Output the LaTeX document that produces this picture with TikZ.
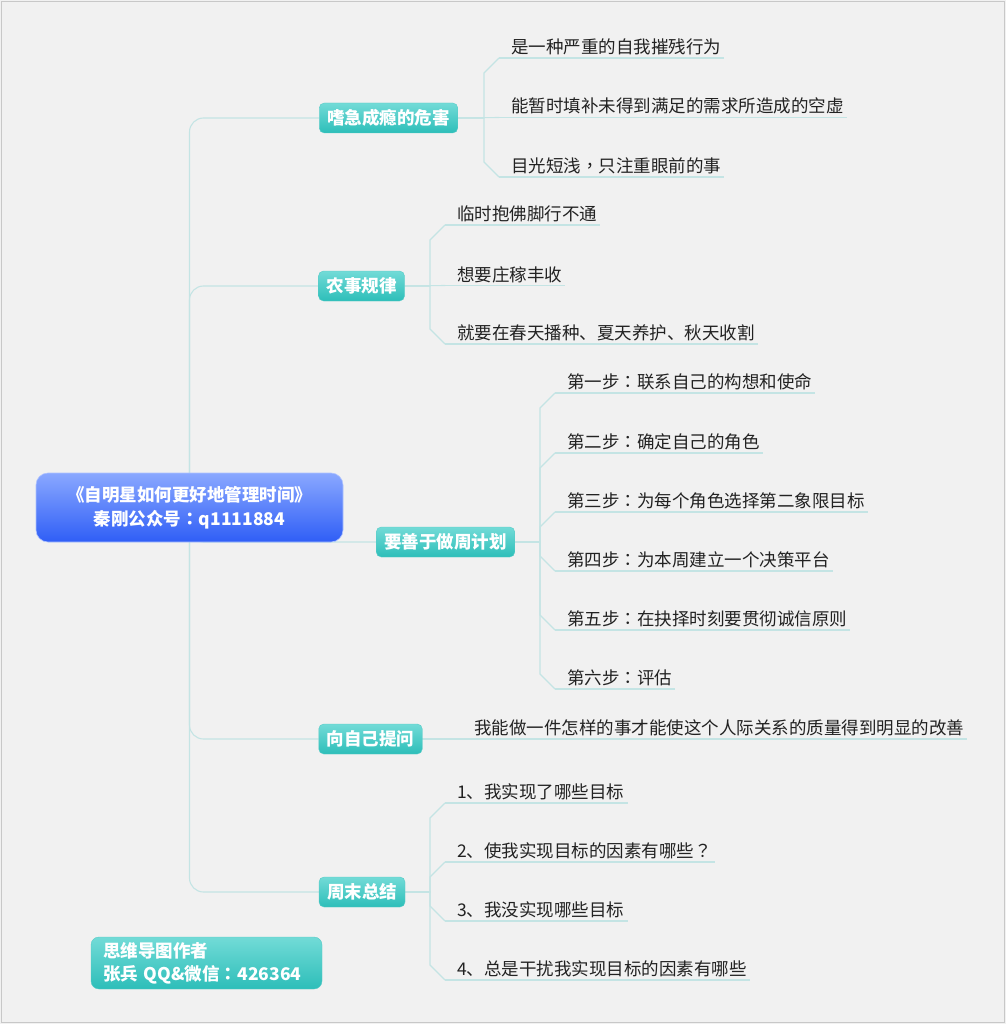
\documentclass[tikz,border=0pt]{standalone}
\usepackage{fontspec}
\setmainfont{Noto Sans CJK SC}
\newfontfamily\tcpunct{Noto Sans CJK TC}
\newcommand{\pcolon}{{\tcpunct ：}}
\newcommand{\pcomma}{{\tcpunct ，}}
\newcommand{\pquest}{{\tcpunct ？}}
\usetikzlibrary{calc}
\pgfdeclarelayer{bglayer}
\pgfdeclarelayer{linelayer}
\pgfsetlayers{bglayer,linelayer,main}
\definecolor{paper}{HTML}{F1F1F1}
\definecolor{frame}{HTML}{C8C8C8}
\definecolor{conncol}{HTML}{C4E4E4}
\definecolor{tealtop}{HTML}{72DBD7}
\definecolor{tealbot}{HTML}{2DBEB9}
\definecolor{bluetop}{HTML}{8AA8FF}
\definecolor{bluebot}{HTML}{2F5EF6}
\definecolor{leaftext}{HTML}{222222}
\tikzset{
  conn/.style={draw=conncol, line width=1.1pt},
  topic/.style={rounded corners=5pt, top color=tealtop, bottom color=tealbot,
    draw=tealbot!80!white, line width=0.4pt, text=white, font=\fontsize{17.5}{21}\selectfont\bfseries,
    inner xsep=8pt, inner ysep=0pt, minimum height=30pt},
  rootbox/.style={rounded corners=12pt, top color=bluetop, bottom color=bluebot,
    draw=bluetop!70!white, line width=0.6pt, text=white, align=center,
    font=\fontsize{17.5}{24}\selectfont\bfseries, minimum width=307pt, minimum height=69pt, inner sep=0pt},
  authorbox/.style={rounded corners=8pt, top color=tealtop, bottom color=tealbot,
    draw=tealbot!80!white, line width=0.4pt, text=white, align=left,
    font=\fontsize{17.5}{23}\selectfont\bfseries, minimum width=231pt, minimum height=52pt,
    inner xsep=12pt, text width=207pt},
  leaf/.style={inner sep=0pt, text=leaftext, font=\fontsize{17.5}{21}\selectfont, anchor=base west}
}
\newcommand{\ulkid}[1]{\draw[conn] ([shift={(-12,4.5)}]#1.base west) -- ([shift={(3,4.5)}]#1.base east);}
\newcommand{\upkid}[3]{\draw[conn] (#1.east) -- (#2) -- ([shift={(-27,19.5)}]#3.base west) -- ([shift={(-12,4.5)}]#3.base west);}
\newcommand{\downkid}[3]{\draw[conn] (#1.east) -- (#2) -- ([shift={(-27,-10.5)}]#3.base west) -- ([shift={(-12,4.5)}]#3.base west);}
\newcommand{\midkid}[2]{\draw[conn] (#1.east) -- ([shift={(-12,4.5)}]#2.base west);}
\begin{document}
\begin{tikzpicture}[x=1pt,y=-1pt]
\begin{pgfonlayer}{bglayer}
\fill[paper] (0,0) rectangle (1006,1024);
\draw[frame, line width=1pt] (1.5,1.5) rectangle (1004.5,1022.5);
\end{pgfonlayer}
\useasboundingbox (0,0) rectangle (1006,1024);

% root
\node[rootbox] (root) at (189.5,507.5) {《自明星如何更好地管理时间》\\秦刚公众号\pcolon q1111884};

% main topics
\node[topic] (t1) at (388.5,118) {嗜急成瘾的危害};
\node[topic] (t2) at (361.5,286) {农事规律};
\node[topic] (t3) at (445.5,542) {要善于做周计划};
\node[topic] (t4) at (370.5,739) {向自己提问};
\node[topic] (t5) at (362,892) {周末总结};

% author
\node[authorbox] (author) at (206.5,963) {思维导图作者\\张兵 QQ\&微信\pcolon 426364};

% branch points
\coordinate (v1) at (484,118);
\coordinate (v2) at (430,286);
\coordinate (v3) at (540,542);
\coordinate (v5) at (430,892);

% leaves of topic 1
\node[leaf] (a1) at (511,53.5) {是一种严重的自我摧残行为};
\node[leaf] (a2) at (511,113) {能暂时填补未得到满足的需求所造成的空虚};
\node[leaf] (a3) at (511,172.5) {目光短浅\pcomma 只注重眼前的事};
% topic 2
\node[leaf] (b1) at (457,220.5) {临时抱佛脚行不通};
\node[leaf] (b2) at (457,281) {想要庄稼丰收};
\node[leaf] (b3) at (457,339.5) {就要在春天播种、夏天养护、秋天收割};
% topic 3
\node[leaf] (s1) at (567,388.5) {第一步\pcolon 联系自己的构想和使命};
\node[leaf] (s2) at (567,448.5) {第二步\pcolon 确定自己的角色};
\node[leaf] (s3) at (567,507.5) {第三步\pcolon 为每个角色选择第二象限目标};
\node[leaf] (s4) at (567,566.5) {第四步\pcolon 为本周建立一个决策平台};
\node[leaf] (s5) at (567,625.5) {第五步\pcolon 在抉择时刻要贯彻诚信原则};
\node[leaf] (s6) at (567,684.5) {第六步\pcolon 评估};
% topic 4
\node[leaf] (q1) at (474,734.5) {我能做一件怎样的事才能使这个人际关系的质量得到明显的改善};
% topic 5
\node[leaf] (w1) at (457,798.5) {1、我实现了哪些目标};
\node[leaf] (w2) at (457,857.5) {2、使我实现目标的因素有哪些\pquest};
\node[leaf] (w3) at (457,916.5) {3、我没实现哪些目标};
\node[leaf] (w4) at (457,975.5) {4、总是干扰我实现目标的因素有哪些};

\begin{pgfonlayer}{linelayer}
\draw[conn, rounded corners=14pt] (root.center) |- (t1.west);
\draw[conn, rounded corners=14pt] (root.center) |- (t2.west);
\draw[conn, rounded corners=14pt] (root.center) |- (t3.west);
\draw[conn, rounded corners=14pt] (root.center) |- (t4.west);
\draw[conn, rounded corners=14pt] (root.center) |- (t5.west);

\upkid{t1}{v1}{a1} \midkid{t1}{a2} \downkid{t1}{v1}{a3}
\ulkid{a1} \ulkid{a2} \ulkid{a3}

\upkid{t2}{v2}{b1} \midkid{t2}{b2} \downkid{t2}{v2}{b3}
\ulkid{b1} \ulkid{b2} \ulkid{b3}

\upkid{t3}{v3}{s1} \upkid{t3}{v3}{s2} \upkid{t3}{v3}{s3}
\downkid{t3}{v3}{s4} \downkid{t3}{v3}{s5} \downkid{t3}{v3}{s6}
\ulkid{s1} \ulkid{s2} \ulkid{s3} \ulkid{s4} \ulkid{s5} \ulkid{s6}

\midkid{t4}{q1} \ulkid{q1}

\upkid{t5}{v5}{w1} \upkid{t5}{v5}{w2} \downkid{t5}{v5}{w3} \downkid{t5}{v5}{w4}
\ulkid{w1} \ulkid{w2} \ulkid{w3} \ulkid{w4}
\end{pgfonlayer}
\end{tikzpicture}
\end{document}
